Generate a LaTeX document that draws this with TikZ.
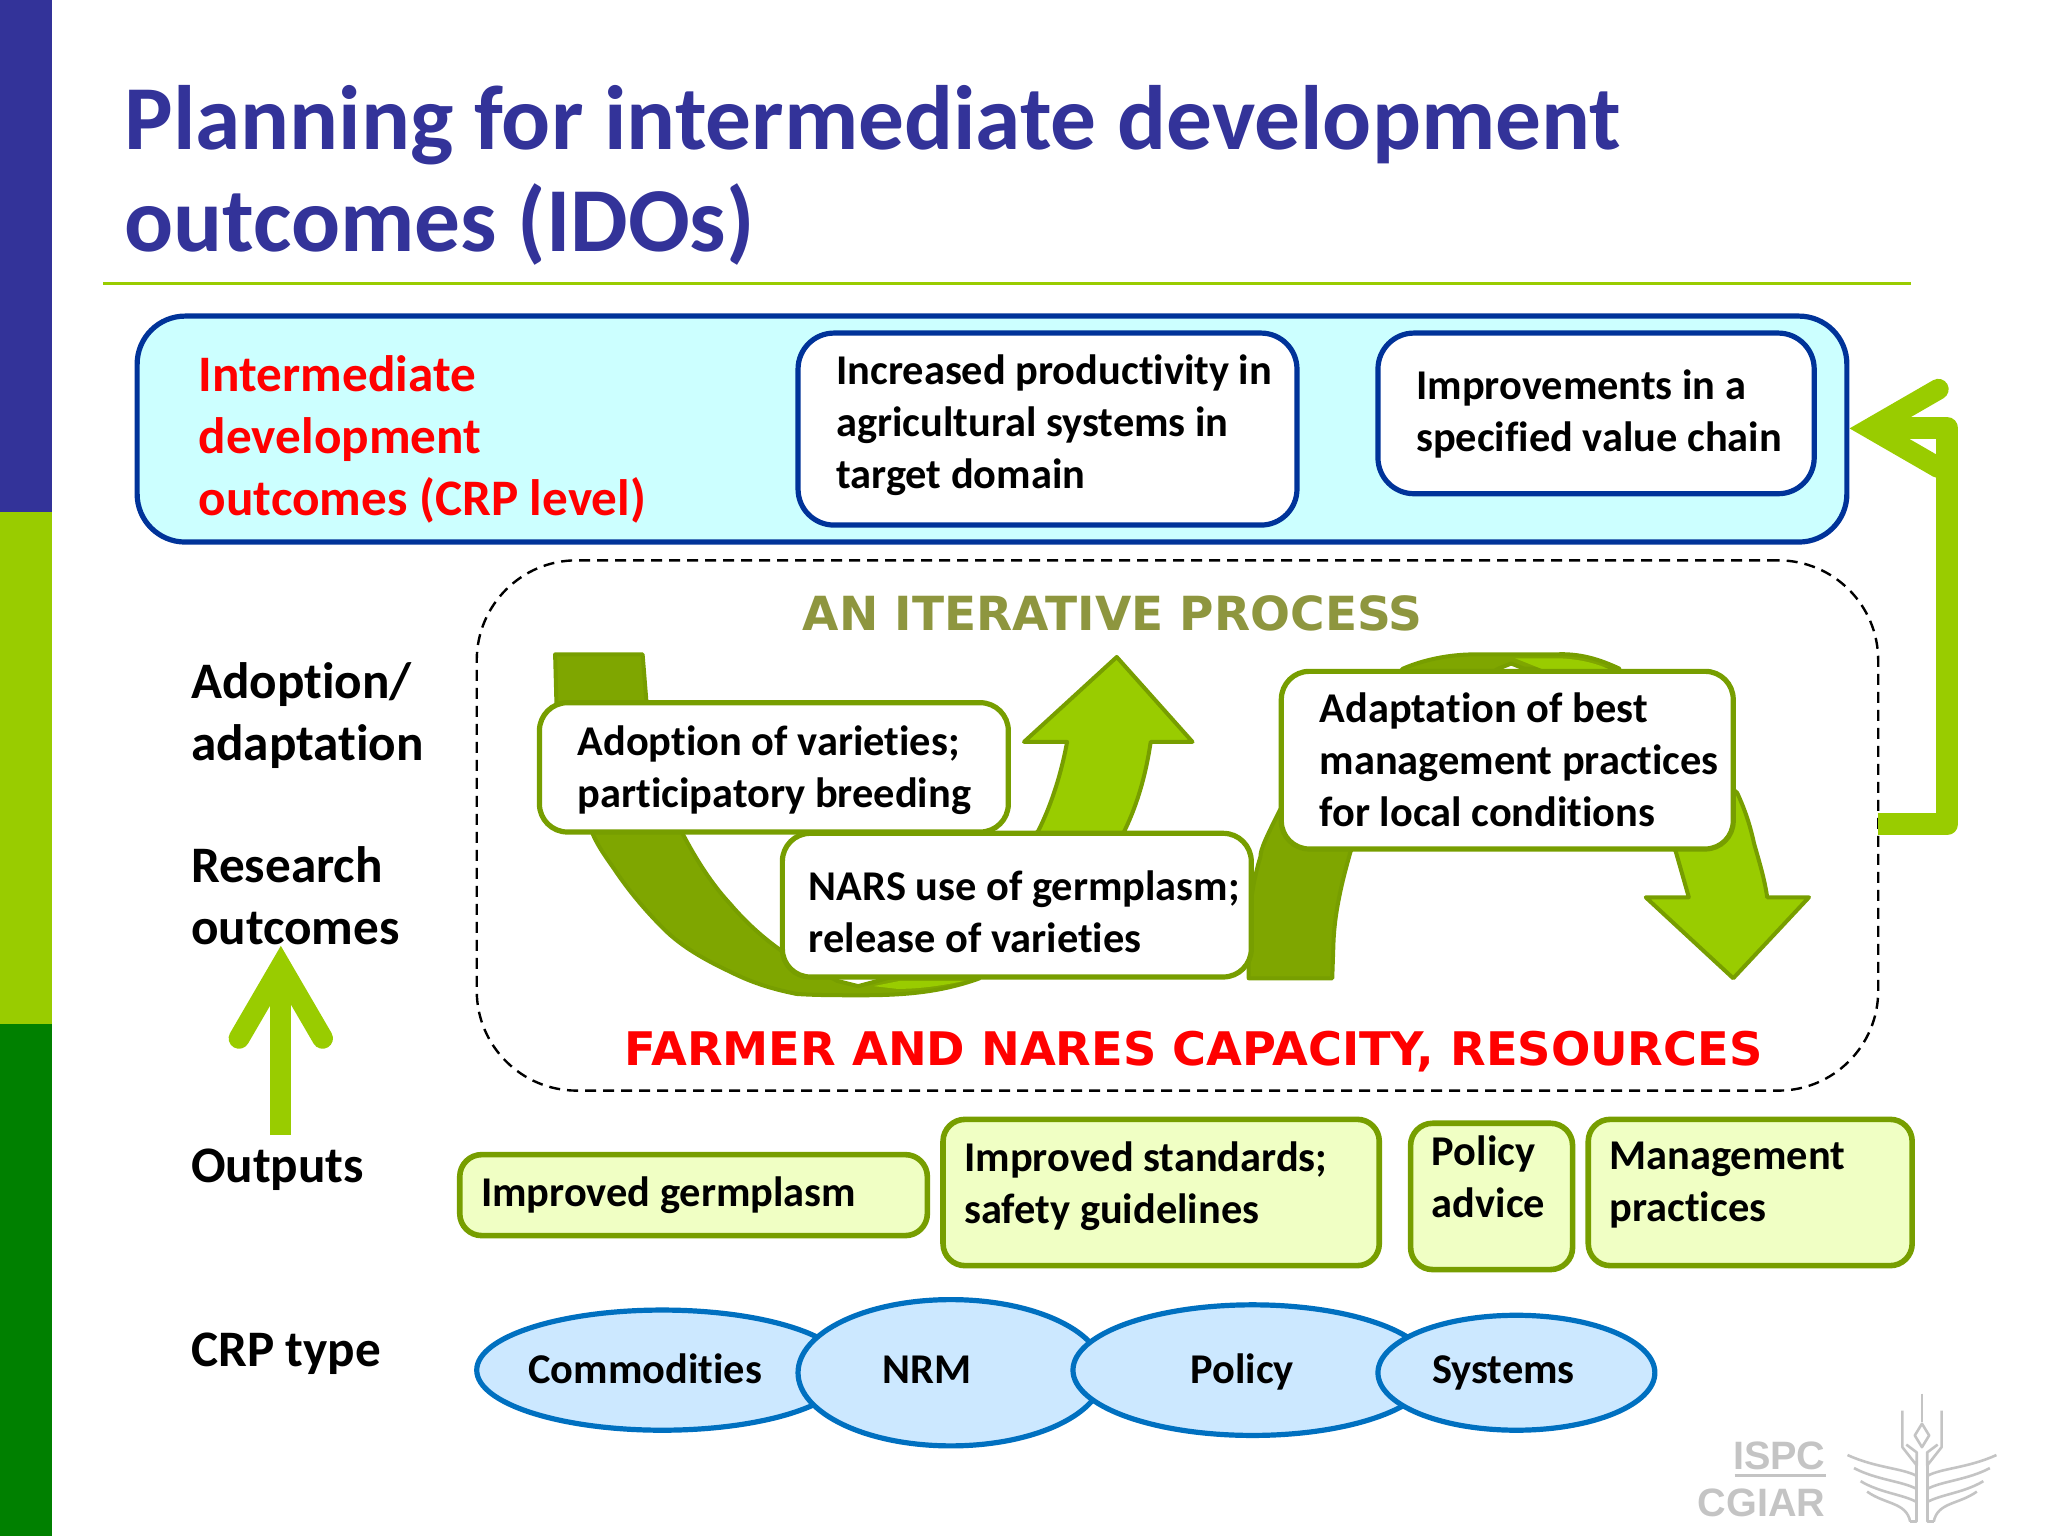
\documentclass[tikz,border=0pt]{standalone}
\usepackage{fontspec}
\setmainfont{Carlito}[Ligatures=CommonOff]
\newfontfamily\wideface{DejaVu Sans}
\newfontfamily\logoface{Liberation Sans}
\usetikzlibrary{shapes.geometric,calc}
\definecolor{barblue}{HTML}{333399}
\definecolor{limegreen}{HTML}{99CC00}
\definecolor{barkgreen}{HTML}{008000}
\definecolor{olivegreen}{HTML}{779E00}
\definecolor{ribbongreen}{HTML}{7FA600}
\definecolor{navyline}{HTML}{003399}
\definecolor{paleblue}{HTML}{CCFFFF}
\definecolor{palelime}{HTML}{F0FFC4}
\definecolor{skyfill}{HTML}{CCE8FF}
\definecolor{skyline}{HTML}{0070C0}
\definecolor{headline}{HTML}{8E963F}
\definecolor{logogray}{HTML}{C4C4C4}
\tikzset{
	bodytext/.style={anchor=north west,inner sep=0pt,align=left,font=\fontsize{21.2}{26}\selectfont\bfseries},
	sidelabel/.style={anchor=north west,inner sep=0pt,align=left,font=\fontsize{25.6}{31}\selectfont\bfseries},
	rowbox/.style={draw=navyline,line width=2.6pt,fill=paleblue,rounded corners=24pt,anchor=north west,outer sep=0pt},
	idobox/.style={draw=navyline,line width=2.6pt,fill=white,rounded corners=18pt,anchor=north west,outer sep=0pt},
	stagebox/.style={draw=olivegreen,line width=2.6pt,fill=white,rounded corners=14pt,anchor=north west,outer sep=0pt},
	outbox/.style={draw=olivegreen,line width=2.8pt,fill=palelime,rounded corners=11pt,anchor=north west,outer sep=0pt},
	processbox/.style={draw,line width=1.2pt,dash pattern=on 5.5pt off 3.5pt,rounded corners=50pt,anchor=north west,outer sep=0pt},
	crptype/.style={ellipse,draw=skyline,line width=2.6pt,fill=skyfill,inner sep=0pt,outer sep=0pt},
	crptext/.style={anchor=base,inner sep=0pt,font=\fontsize{21.2}{26}\selectfont\bfseries},
	wordsbig/.style={inner sep=0pt,font=\wideface\fontsize{23.15}{28}\selectfont\bfseries},
	logotext/.style={anchor=east,inner sep=0pt,text=logogray,font=\logoface\fontsize{19.8}{24}\selectfont\bfseries},
	ribbon/.style={draw=olivegreen,line width=2pt,fill=ribbongreen},
	ribbonlight/.style={draw=olivegreen,line width=2pt,fill=limegreen},
	logoline/.style={logogray,line width=1.3pt},
}
\begin{document}
\begin{tikzpicture}[x=0.653pt,y=-0.653pt,line join=round]
	\useasboundingbox (0,0) rectangle (1568,1176);
	% side bar
	\fill[barblue] (0,0) rectangle (40,392);
	\fill[limegreen] (0,392) rectangle (40,784);
	\fill[barkgreen] (0,784) rectangle (40,1176);
	% title
	\node[anchor=north west,inner sep=0pt,align=left,text=barblue,font=\fontsize{45.7}{51}\selectfont\bfseries] (title) at (95,65) {Planning for intermediate development\\outcomes (IDOs)};
	\draw[limegreen,line width=1.8pt] (79,217) -- (1463,217);
	% top row
	\node[rowbox,minimum width=1309*0.653pt,minimum height=173*0.653pt] (idorow) at (105,242) {};
	\node[sidelabel,text=red] (idolabel) at (152,272) {Intermediate\\development\\outcomes (CRP level)};
	\node[idobox,minimum width=382*0.653pt,minimum height=147*0.653pt] (productivity) at (611,255) {};
	\node[bodytext] (productivitytext) at (640,271) {Increased productivity in\\agricultural systems in\\target domain};
	\node[idobox,minimum width=334*0.653pt,minimum height=123*0.653pt] (valuechain) at (1055,255) {};
	\node[bodytext] (valuechaintext) at (1084,283) {Improvements in a\\specified value chain};
	% iterative process
	\node[processbox,minimum width=1073*0.653pt,minimum height=406*0.653pt] (process) at (365,429) {};
	\node[wordsbig,text=headline,font=\wideface\fontsize{23.5}{28}\selectfont\bfseries] (iterative) at (852,470) {AN ITERATIVE PROCESS};
	\node[wordsbig,text=red] (capacity) at (914,805) {FARMER AND NARES CAPACITY, RESOURCES};
	% first swoosh
	\filldraw[ribbonlight] (700,745) -- (795,636) .. controls (804,618) and (812,595) .. (817,568) -- (784,568) -- (855,503) -- (913,568) -- (881,568) .. controls (877,595) and (870,618) .. (860,638) -- (760,745) -- cycle;
	\filldraw[ribbon] (425,501) -- (492,501) -- (495,538) -- (523,639) .. controls (533,658) and (545,677) .. (559,692) .. controls (570,705) and (583,717) .. (597,727) -- (641,751) -- (657,755) -- (672,751) -- (689,746) -- (738,746) -- (750,749) .. controls (725,758) and (700,762) .. (661,762) .. controls (640,762) and (625,762) .. (610,761) .. controls (590,757) and (575,752) .. (559,744) .. controls (540,735) and (522,725) .. (508,711) .. controls (495,698) and (482,683) .. (470,665) .. controls (463,655) and (458,648) .. (454,639) -- (426,538) -- cycle;
	\fill[limegreen] (689,751) -- (669,755) -- (686,757) .. controls (700,757.5) and (720,755) .. (738,751) -- cycle;
	% second swoosh
	\filldraw[ribbonlight] (1240,530) -- (1330,607) .. controls (1336,620) and (1340,632) .. (1343,646) .. controls (1347,660) and (1351,673) .. (1353,687) -- (1385,687) -- (1327,749) -- (1260,687) -- (1293,687) -- (1283,652) -- (1272,630) -- cycle;
	\filldraw[ribbon] (956,749) -- (1020,749) -- (1021,720) .. controls (1022,700) and (1026,680) .. (1034,652) -- (1100,540) -- (1147,512) -- (1157,508) -- (1167,512) -- (1240,512) .. controls (1225,505) and (1210,500) .. (1191,501) -- (1129,501) .. controls (1110,501) and (1090,505) .. (1074,512) -- (980,620) .. controls (970,640) and (965,650) .. (965,656) .. controls (960,672) and (957,690) .. (956,712) -- cycle;
	\fill[limegreen] (1160,504) -- (1191,504) .. controls (1205,504) and (1222,507) .. (1235,514) -- (1185,514) -- cycle;
	\node[stagebox,minimum width=359*0.653pt,minimum height=99*0.653pt] (adoption) at (413,538) {};
	\node[bodytext] (adoptiontext) at (442,555) {Adoption of varieties;\\participatory breeding};
	\node[stagebox,minimum width=359*0.653pt,minimum height=110*0.653pt] (nars) at (599,638) {};
	\node[bodytext] (narstext) at (619,666) {NARS use of germplasm;\\release of varieties};
	\node[stagebox,minimum width=346*0.653pt,minimum height=136*0.653pt] (adaptation) at (981,514) {};
	\node[bodytext] (adaptationtext) at (1010,530) {Adaptation of best\\management practices\\for local conditions};
	% side labels
	\node[sidelabel] (adoptlabel) at (146,507) {Adoption/\\adaptation};
	\node[sidelabel] (researchlabel) at (146,648) {Research\\outcomes};
	\node[sidelabel] (outputslabel) at (146,879) {Outputs};
	\node[sidelabel] (crplabel) at (146,1020) {CRP type};
	\coordinate (risetop) at (215,740);
	\coordinate (risefoot) at (215,869);
	\draw[limegreen,line width=10.4pt] (risefoot) -- (215,752);
	\draw[limegreen,line width=10.4pt,line cap=round,line join=miter] (183,795) -- (risetop) -- (247,795);
	% feedback
	\coordinate (loopfoot) at (process.east |- 0,631);
	\coordinate (loophead) at (1432,328);
	\draw[limegreen,line width=11pt] (loopfoot) -- (1491,631) -- (1491,328) -- (loophead);
	\draw[limegreen,line width=10.4pt,line cap=round,line join=miter] (1484,298) -- (loophead) -- (1484,358);
	% outputs
	\node[outbox,minimum width=358*0.653pt,minimum height=62*0.653pt] (germplasm) at (352,884) {};
	\node[bodytext] (germplasmtext) at (368,901) {Improved germplasm};
	\node[outbox,minimum width=334*0.653pt,minimum height=112*0.653pt] (standards) at (722,857) {};
	\node[bodytext] (standardstext) at (738,874) {Improved standards;\\safety guidelines};
	\node[outbox,minimum width=124*0.653pt,minimum height=112*0.653pt] (policyout) at (1080,860) {};
	\node[bodytext] (policyouttext) at (1096,869) {Policy\\advice};
	\node[outbox,minimum width=248*0.653pt,minimum height=112*0.653pt] (management) at (1216,857) {};
	\node[bodytext] (managementtext) at (1232,874) {Management\\practices};
	% crp types
	\node[crptype,minimum width=284*0.653pt,minimum height=92*0.653pt] (commodities) at (507,1049) {};
	\node[crptype,minimum width=234*0.653pt,minimum height=112*0.653pt] (nrm) at (728,1051) {};
	\node[crptype,minimum width=275*0.653pt,minimum height=100*0.653pt] (policy) at (959,1049) {};
	\node[crptype,minimum width=212*0.653pt,minimum height=88*0.653pt] (systems) at (1161,1051) {};
	\node[crptext] (commoditiestext) at (494,1059) {Commodities};
	\node[crptext] (nrmtext) at (710,1059) {NRM};
	\node[crptext] (policytext) at (951,1059) {Policy};
	\node[crptext] (systemstext) at (1151,1059) {Systems};
	% logo
	\node[logotext] (ispc) at (1398,1115) {ISPC};
	\node[logotext] (cgiar) at (1398,1151) {CGIAR};
	\draw[logogray,line width=1.5pt] (1328,1130) -- (1398,1130);
	\draw[logoline] (1471.5,1067) -- (1471.5,1089);
	\draw[logoline] (1471.5,1090) -- (1466,1099) -- (1471.5,1108) -- (1477,1099) -- cycle;
	\foreach \s in {-1,1}{
		\draw[logoline] (1471.5+15*\s,1080) -- (1471.5+15*\s,1108) -- (1471.5+4*\s,1122) -- (1471.5+4*\s,1112) -- (1471.5+12*\s,1106);
		\draw[logoline] (1471.5+57*\s,1114) .. controls (1471.5+35*\s,1124) and (1471.5+15*\s,1124) .. (1471.5+4*\s,1130);
		\draw[logoline] (1471.5+52*\s,1124) .. controls (1471.5+35*\s,1133) and (1471.5+15*\s,1134) .. (1471.5+4*\s,1140);
		\draw[logoline] (1471.5+47*\s,1134) .. controls (1471.5+32*\s,1143) and (1471.5+15*\s,1144) .. (1471.5+4*\s,1150);
		\draw[logoline] (1471.5+42*\s,1142) .. controls (1471.5+28*\s,1152) and (1471.5+12*\s,1150) .. (1471.5+9*\s,1165);
		\draw[logoline] (1471.5+4*\s,1122) -- (1471.5+4*\s,1165) -- (1471.5+9*\s,1165);
	}
\end{tikzpicture}
\end{document}
